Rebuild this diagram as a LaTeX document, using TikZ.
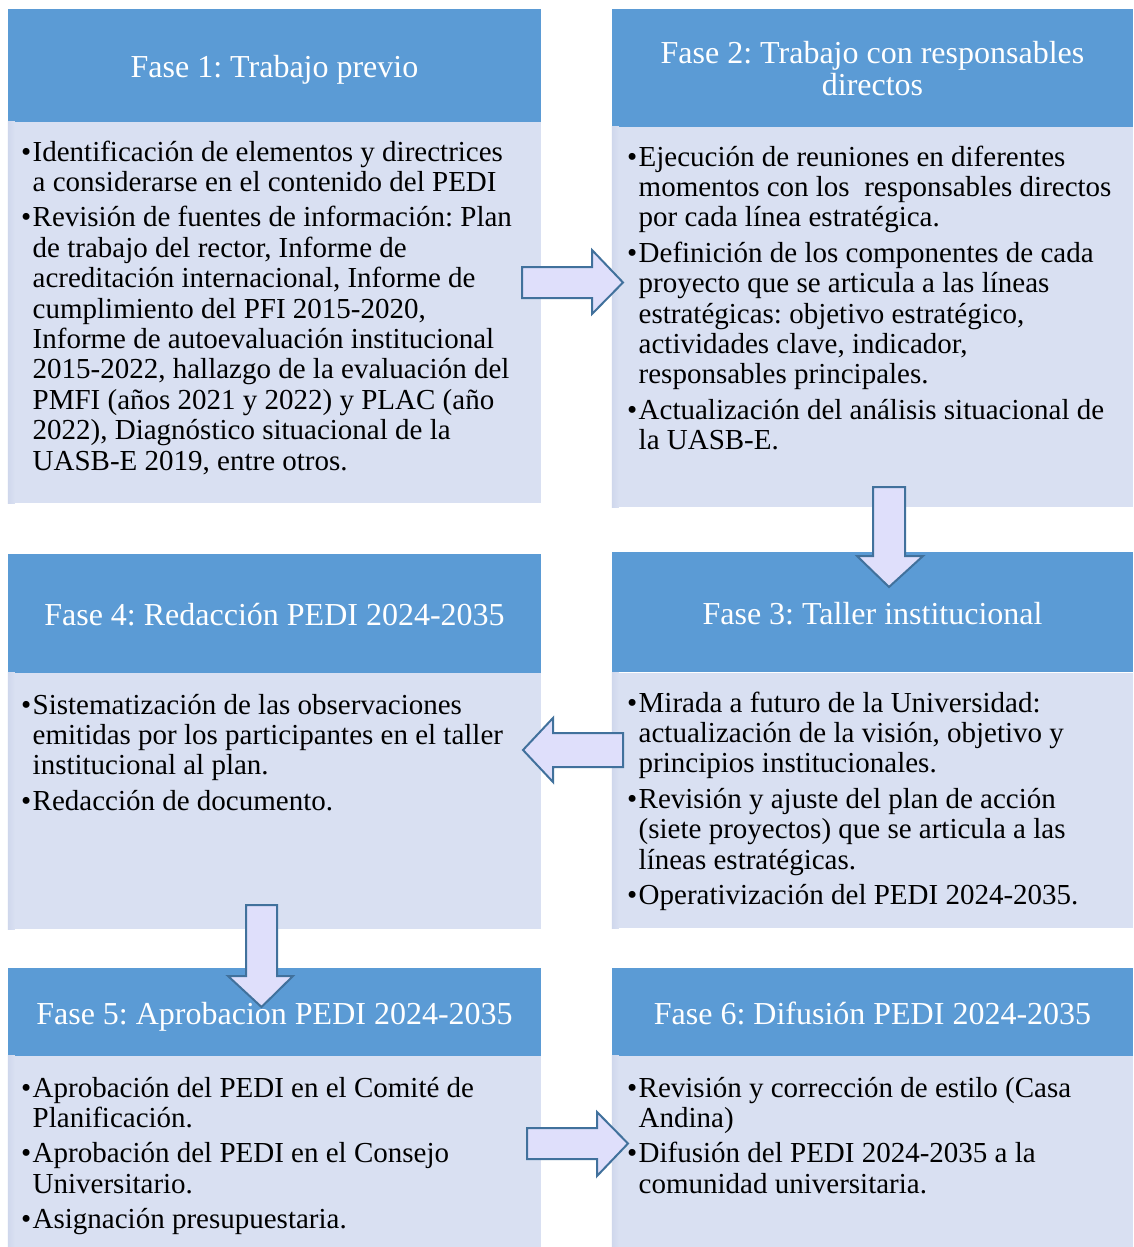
\documentclass[tikz,border=0pt]{standalone}
\usepackage{fontspec}
\setmainfont{Liberation Serif}

\definecolor{hdrblue}{HTML}{5B9BD5}
\definecolor{bodyfill}{HTML}{D9E0F2}
\definecolor{bodyedge}{HTML}{CFD7EC}
\definecolor{arrowfill}{HTML}{DFDFFB}
\definecolor{arrowline}{HTML}{41719C}

\newcommand{\firstitem}[1]{\noindent\hangindent=11.5pt\hangafter=1\makebox[11.5pt][l]{\textbullet}#1}
\newcommand{\nextitem}[1]{\par\vskip 5pt\noindent\hangindent=11.5pt\hangafter=1\makebox[11.5pt][l]{\textbullet}#1}
\newcommand{\bodytext}[1]{\vtop{\hsize=560pt\fontsize{29}{30.4}\selectfont\frenchspacing\baselineskip=30.4pt\parindent=0pt\parskip=0pt\rightskip=0pt plus 1fil\relax #1}}

\tikzset{
  hdr/.style={fill=hdrblue, draw=none, text=white, align=center, inner sep=0pt,
    font=\fontsize{32}{32}\selectfont\frenchspacing},
  hdrone/.style={hdr, text height=30pt, text depth=6pt},
  bodybox/.style={fill=bodyfill, draw=none, inner sep=0pt},
  btxt/.style={anchor=base west, inner sep=0pt},
  blockarrow/.style={fill=arrowfill, draw=arrowline, line width=2pt, line join=miter}
}

\begin{document}
\begin{tikzpicture}[x=1pt,y=-1pt]
\useasboundingbox (0,0) rectangle (1133,1247);
\fill[white] (0,0) rectangle (1133,1247);

% ---------- Row 1 ----------
\node[hdrone, minimum width=533pt, minimum height=113pt] (h1) at (274.5,65.5) {Fase 1: Trabajo previo};
\node[bodybox, minimum width=533pt, minimum height=381pt] (b1) at (274.5,312.5) {};
\node[hdr, minimum width=521pt, minimum height=118pt] (h2) at (872.5,68) {};
\node[hdr, fill=none] (h2t) at (872.5,69) {Fase 2: Trabajo con responsables\\directos};
\node[bodybox, minimum width=521pt, minimum height=380pt] (b2) at (872.5,317) {};

% ---------- Row 2 ----------
\node[hdrone, minimum width=533pt, minimum height=119pt] (h4) at (274.5,613.5) {Fase 4: Redacción PEDI 2024-2035};
\node[bodybox, minimum width=533pt, minimum height=256pt] (b4) at (274.5,801) {};
\node[hdrone, minimum width=521pt, minimum height=120pt] (h3) at (872.5,612) {Fase 3: Taller institucional};
\node[bodybox, minimum width=521pt, minimum height=255pt] (b3) at (872.5,800.5) {};

% ---------- Row 3 ----------
\node[hdrone, minimum width=533pt, minimum height=88pt] (h5) at (274.5,1012) {Fase 5: Aprobación PEDI 2024-2035};
\node[bodybox, minimum width=533pt, minimum height=191pt] (b5) at (274.5,1151.5) {};
\node[hdrone, minimum width=521pt, minimum height=88pt] (h6) at (872.5,1012) {Fase 6: Difusión PEDI 2024-2035};
\node[bodybox, minimum width=521pt, minimum height=191pt] (b6) at (872.5,1151.5) {};

% subtle left edges of the body boxes
\foreach \b in {b1,b2,b3,b4,b5,b6}{
  \fill[left color=bodyedge, right color=bodyfill] (\b.north west) rectangle ([xshift=7pt]\b.south west);
}

% ---------- Body texts ----------
\node[btxt] (t1) at (21,161) {\bodytext{%
\firstitem{Identificación de elementos y directrices\\a considerarse en el contenido del PEDI}
\nextitem{Revisión de fuentes de información: Plan\\de trabajo del rector, Informe de\\acreditación internacional, Informe de\\cumplimiento del PFI 2015-2020,\\Informe de autoevaluación institucional\\2015-2022, hallazgo de la evaluación del\\PMFI (años 2021 y 2022) y PLAC (año\\2022), Diagnóstico situacional de la\\UASB-E 2019, entre otros.}}};

\node[btxt] (t2) at (627,166) {\bodytext{%
\firstitem{Ejecución de reuniones en diferentes\\momentos con los \ responsables directos\\por cada línea estratégica.}
\nextitem{Definición de los componentes de cada\\proyecto que se articula a las líneas\\estratégicas: objetivo estratégico,\\actividades clave, indicador,\\responsables principales.}
\nextitem{Actualización del análisis situacional de\\la UASB-E.}}};

\node[btxt] (t3) at (627,712) {\bodytext{%
\firstitem{Mirada a futuro de la Universidad:\\actualización de la visión, objetivo y\\principios institucionales.}
\nextitem{Revisión y ajuste del plan de acción\\(siete proyectos) que se articula a las\\líneas estratégicas.}
\nextitem{Operativización del PEDI 2024-2035.}}};

\node[btxt] (t4) at (21,714) {\bodytext{%
\firstitem{Sistematización de las observaciones\\emitidas por los participantes en el taller\\institucional al plan.}
\nextitem{Redacción de documento.}}};

\node[btxt] (t5) at (21,1097) {\bodytext{%
\firstitem{Aprobación del PEDI en el Comité de\\Planificación.}
\nextitem{Aprobación del PEDI en el Consejo\\Universitario.}
\nextitem{Asignación presupuestaria.}}};

\node[btxt] (t6) at (627,1097) {\bodytext{%
\firstitem{Revisión y corrección de estilo (Casa\\Andina)}
\nextitem{Difusión del PEDI 2024-2035 a la\\comunidad universitaria.}}};

% ---------- Block arrows ----------
\draw[blockarrow] (522,267) -- (592,267) -- (592,250) -- (623,282.5) -- (592,314) -- (592,298) -- (522,298) -- cycle;
\draw[blockarrow] (873,487) -- (905,487) -- (905,556) -- (923,556) -- (889,587) -- (857,556) -- (873,556) -- cycle;
\draw[blockarrow] (623,733) -- (553,733) -- (553,718) -- (523,750) -- (553,782) -- (553,767) -- (623,767) -- cycle;
\draw[blockarrow] (246,905) -- (277,905) -- (277,976) -- (293,976) -- (261.5,1007) -- (228,976) -- (246,976) -- cycle;
\draw[blockarrow] (527,1128) -- (597,1128) -- (597,1112) -- (628,1143.5) -- (597,1176) -- (597,1159) -- (527,1159) -- cycle;
\end{tikzpicture}
\end{document}
